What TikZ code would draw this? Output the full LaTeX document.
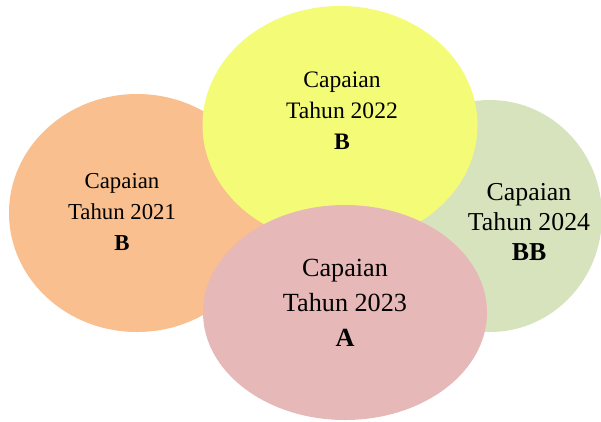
\documentclass[tikz,border=0pt]{standalone}
\usepackage{fontspec}
\setmainfont{Liberation Serif}
\usetikzlibrary{shapes.geometric}
\definecolor{corange}{HTML}{F9BF8F}
\definecolor{cyellow}{HTML}{F3FB77}
\definecolor{cgreen}{HTML}{D6E3BD}
\definecolor{cpink}{HTML}{E6B8B7}
\tikzset{
  blob/.style={ellipse, draw=none, inner sep=0pt},
  lbl/.style={align=center, text=black, inner sep=0pt}
}
\begin{document}
\begin{tikzpicture}[x=1pt,y=-1pt]
\useasboundingbox (0,0) rectangle (601,421);
\clip (0,0) rectangle (601,421);
\node[blob, fill=corange, minimum width=256pt, minimum height=238pt] (e21) at (137,213) {};
\node[blob, fill=cgreen, minimum width=224pt, minimum height=232pt] (e24) at (490,216) {};
\node[blob, fill=cyellow, minimum width=275pt, minimum height=238pt] (e22) at (340,125) {};
\node[blob, fill=cpink, minimum width=284pt, minimum height=215pt] (e23) at (345,312.5) {};
\node[lbl, font=\fontsize{22.8}{31}\selectfont] (t21) at (122,212) {Capaian\\Tahun 2021\\\textbf{B}};
\node[lbl, font=\fontsize{23.6}{31}\selectfont] (t22) at (342,111) {Capaian\\Tahun 2022\\\textbf{B}};
\node[lbl, font=\fontsize{26.2}{35}\selectfont] (t23) at (345,303) {Capaian\\Tahun 2023\\\textbf{A}};
\node[lbl, font=\fontsize{25.8}{30}\selectfont] (t24) at (529,222) {Capaian\\Tahun 2024\\\textbf{BB}};
\end{tikzpicture}
\end{document}
